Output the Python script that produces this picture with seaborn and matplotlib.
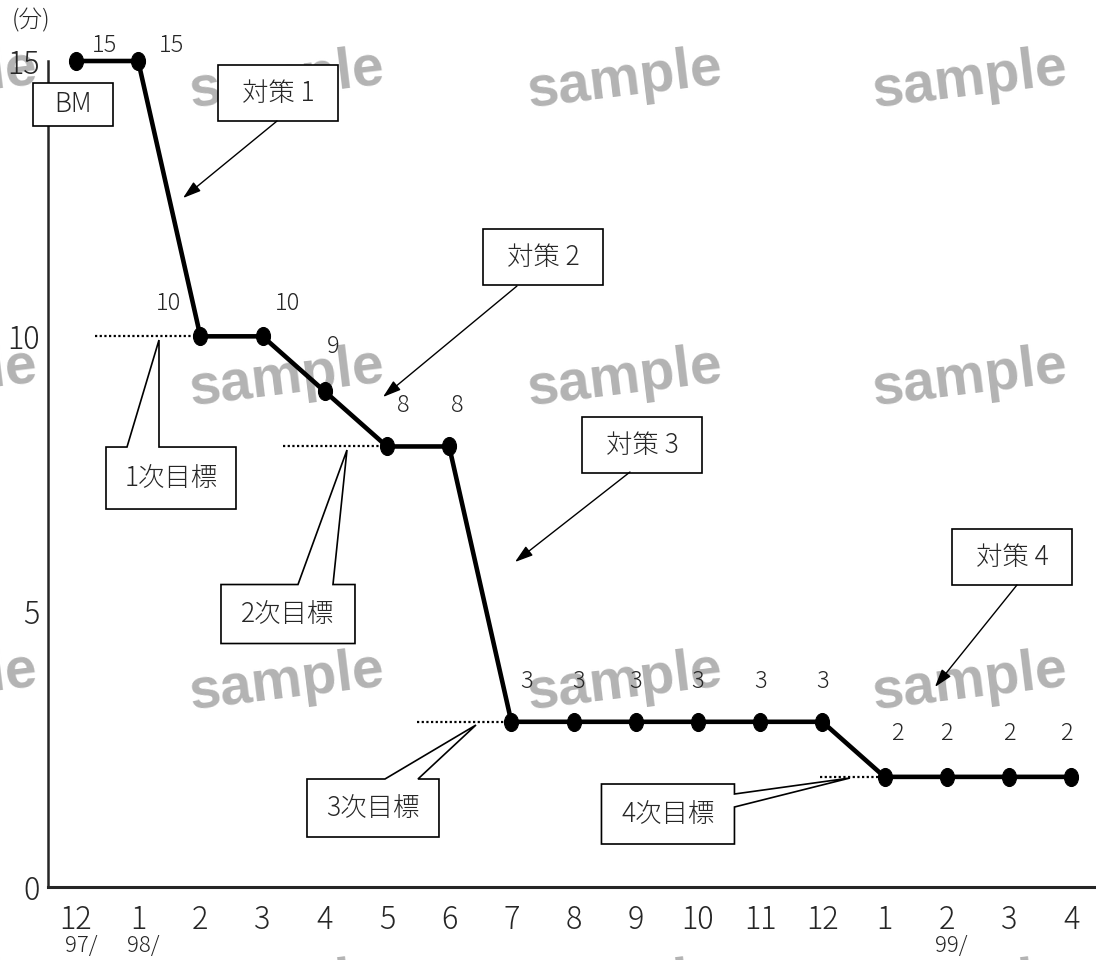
import numpy as np
import pandas as pd
import matplotlib
matplotlib.use("Agg")
import matplotlib.pyplot as plt
import seaborn as sns
from matplotlib.markers import MarkerStyle
from matplotlib.transforms import Affine2D
from matplotlib.patches import Polygon

# ---- data ----
months = ["12", "1", "2", "3", "4", "5", "6", "7", "8", "9", "10", "11", "12", "1", "2", "3", "4"]
minutes = [15, 15, 10, 10, 9, 8, 8, 3, 3, 3, 3, 3, 3, 2, 2, 2, 2]
year_marks = {0: "97/", 1: "98/", 14: "99/"}
y_ticks = [0, 5, 10, 15]

# target levels: (label, value, index where the dotted guide ends)
targets = [("1次目標", 10, 2), ("2次目標", 8, 5), ("3次目標", 3, 7), ("4次目標", 2, 13)]
measures = ["対策 1", "対策 2", "対策 3", "対策 4"]

# ---- layout (pixel offsets of value labels, centres/sizes of boxes) ----
label_offsets = [(29, 16), (33, 16), (-32, 33), (25, 33), (8, 45), (16, 41), (8, 41),
                 (15, 40), (5, 40), (0, 40), (0, 40), (0, 40), (0, 40),
                 (13, 43), (0, 43), (0, 43), (-5, 43)]

W, H = 1096, 960
fig = plt.figure(figsize=(W / 100, H / 100), dpi=100)
sns.set_style("white")
plt.rcParams["font.family"] = ["Noto Sans CJK JP", "DejaVu Sans"]
plt.rcParams["font.weight"] = "light"

ax = fig.add_axes([48 / W, 73 / H, (W - 48) / W, (887 - 61) / H])
ax.set_facecolor("none")
fig.patch.set_facecolor("white")

X0, X1 = -0.45, 16.4
ax.set_xlim(X0, X1)
ax.set_ylim(0, 15)

def px(xp, yp):
    """pixel position on the canvas -> data coordinates"""
    return (X0 + (xp - 48) / 62.2, (887 - yp) / 55.07)

# watermark
wm_cols = [-60, 287, 625, 970]
wm_rows = [80, 378, 682, 990]
for yy in wm_rows:
    for xx in wm_cols:
        fig.text(xx / W, 1 - yy / H, "sample", rotation=7, ha="center", va="center",
                 rotation_mode="anchor", fontsize=41, fontweight="bold",
                 color="#b3b3b3", family="Liberation Sans", zorder=-5)

df = pd.DataFrame({"idx": np.arange(len(minutes)), "min": minutes})
ell = MarkerStyle("o", transform=Affine2D().scale(0.78, 1.0))
sns.lineplot(data=df, x="idx", y="min", ax=ax, color="black", linewidth=3.3,
             marker=ell, markersize=13, markeredgecolor="black",
             markerfacecolor="black", sort=False, clip_on=False, zorder=6)

for i, v in enumerate(minutes):
    dx, dy = label_offsets[i]
    ax.annotate(str(v), (i, v), xytext=(dx, dy), textcoords="offset pixels",
                ha="center", va="center", fontsize=17, zorder=7)

# dotted target guides
guide_start = {10: 95, 8: 283, 3: 417, 2: 820}
for name, val, end in targets:
    xs = px(guide_start[val], 0)[0]
    ax.plot([xs, end], [val, val], color="black", lw=1.6,
            linestyle=(0, (1, 1.1)), zorder=4)

def bubble(cx, cy, w, h, text, pointer=None, side="top"):
    """box centred at pixel (cx, cy), optional speech pointer (b1, b2, apex) in pixels"""
    x0, x1 = cx - w / 2, cx + w / 2
    y0, y1 = cy - h / 2, cy + h / 2  # y0 = top in pixels
    if pointer is None:
        verts = [(x0, y0), (x1, y0), (x1, y1), (x0, y1)]
    elif side == "top":
        b1, b2, ap = pointer
        verts = [(x0, y0), (b1, y0), ap, (b2, y0), (x1, y0), (x1, y1), (x0, y1)]
    else:  # right
        b1, b2, ap = pointer
        verts = [(x0, y0), (x1, y0), (x1, b1), ap, (x1, b2), (x1, y1), (x0, y1)]
    dv = [px(a, b) for a, b in verts]
    ax.add_patch(Polygon(dv, closed=True, facecolor="white", edgecolor="black",
                         lw=1.2, zorder=8, clip_on=False))
    tx, ty = px(cx, cy)
    ax.text(tx, ty, text, ha="center", va="center", fontsize=19, zorder=9)

bubble(73, 104, 80, 43, "BM")
bubble(171, 478, 130, 62, targets[0][0], (127, 159, (159, 340)))
bubble(288, 614, 134, 59, targets[1][0], (298, 333, (347, 450)))
bubble(373, 808, 132, 58, targets[2][0], (385, 418, (476, 725)))
bubble(668, 814, 133, 60, targets[3][0], (794, 807, (850, 778)), side="right")

# measure boxes with arrows
measure_boxes = [(278, 93), (543, 257), (642, 445), (1012, 557)]
arrows = [((277, 121), (183, 198)), ((517, 286), (383, 397)),
          ((630, 472), (515, 562)), ((1017, 585), (935, 687))]
for name, (cx, cy), (s, e) in zip(measures, measure_boxes, arrows):
    bubble(cx, cy, 120, 56, name)
    ax.annotate("", xy=px(*e), xytext=px(*s),
                arrowprops=dict(arrowstyle="-|>,head_length=1.1,head_width=0.35",
                                color="black", lw=1.0, shrinkA=0, shrinkB=0),
                zorder=8)

# axes styling
for s in ["top", "right"]:
    ax.spines[s].set_visible(False)
ax.spines["left"].set_linewidth(1.8)
ax.spines["bottom"].set_linewidth(2.2)
ax.spines["left"].set_bounds(0, 15)

ax.set_yticks(y_ticks)
ax.set_yticklabels([str(t) for t in y_ticks])
ax.tick_params(axis="y", direction="in", length=6, width=1.5, labelsize=22)
ax.yaxis.set_tick_params(pad=6)

ax.set_xticks(np.arange(len(months) - 1) + 0.55)
ax.set_xticklabels([])
ax.set_xticks(np.arange(len(months)), minor=True)
ax.set_xticklabels(months, minor=True)
ax.tick_params(axis="x", which="major", direction="out", length=8, width=1.3)
ax.tick_params(axis="x", which="minor", length=0, pad=12, labelsize=22)

for i, t in year_marks.items():
    ax.text(i + 0.08, -0.072, t, transform=ax.get_xaxis_transform(),
            ha="center", va="center", fontsize=16)

ax.set_xlabel("")
ax.set_ylabel("")
fig.text(31 / W, 1 - 21 / H, "(分)", ha="center", va="center", fontsize=17)

fig.savefig("out.png", dpi=100)
